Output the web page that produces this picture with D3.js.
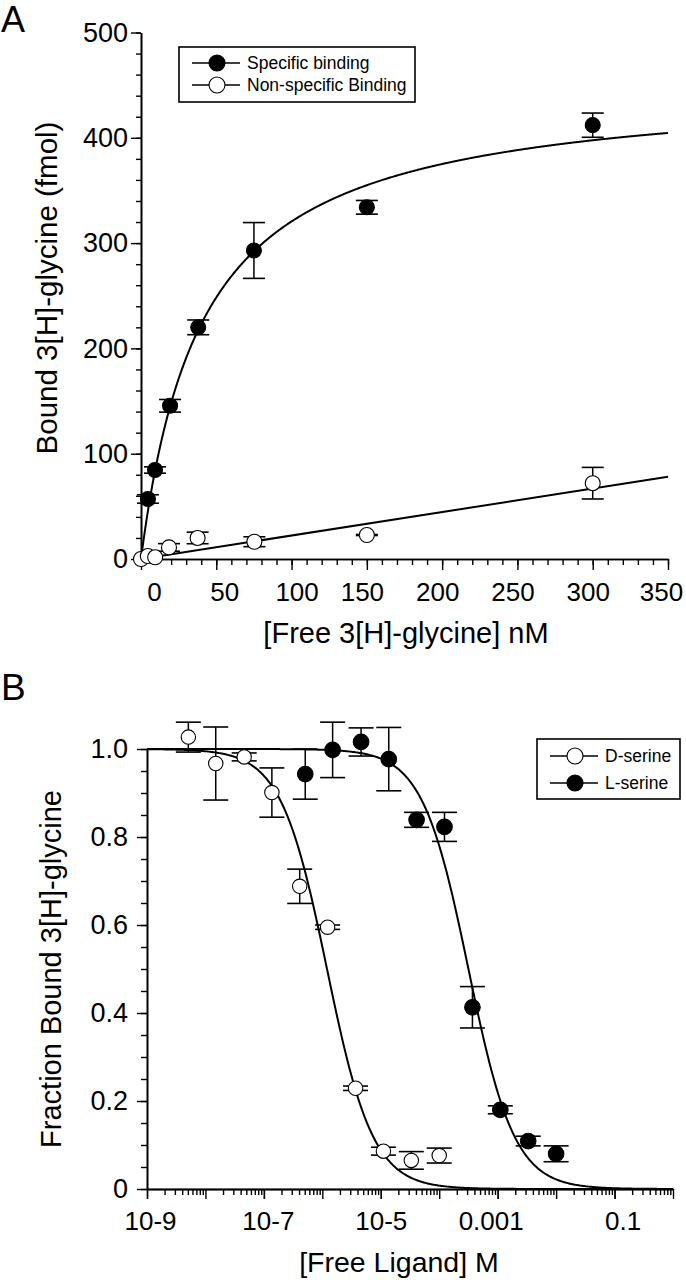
<!DOCTYPE html>
<html><head><meta charset="utf-8">
<script src="https://cdn.jsdelivr.net/npm/d3@7"></script>
<style>
body{margin:0;background:#fff}
svg{display:block}
text{font-family:"Liberation Sans",Arial,Helvetica,sans-serif;fill:#000}
</style>
</head><body>
<svg id="chart" width="686" height="1280"></svg>
<script>
// ---------- Panel A data ----------
const freeSpecific = [4.6, 9.3, 19.3, 38, 75, 150, 300];
const boundSpecific = [57, 84.5, 145.5, 220, 293, 334, 412];
const errSpecific = [4, 3, 6, 7, 26.5, 6.5, 11.5];
const freeNonSpecific = [0, 4.5, 9.4, 18.6, 37.6, 75.3, 150, 300];
const boundNonSpecific = [0, 2.8, 1.6, 11, 20, 16.4, 22.8, 72];
const errNonSpecific = [0, 0, 0, 3.6, 5.5, 4.7, 0.5, 15];
const specificBmax = 452, specificKd = 41;
const nonSpecificSlope = 0.223;
const xTicksA = [0, 50, 100, 150, 200, 250, 300, 350];
const yTicksA = [0, 100, 200, 300, 400, 500];
const legendA = ["Specific binding", "Non-specific Binding"];

// ---------- Panel B data ----------
const dSerineConc = [5.1e-9, 1.5e-8, 4.6e-8, 1.37e-7, 4.1e-7, 1.23e-6, 3.7e-6, 1.11e-5, 3.33e-5, 1e-4];
const dSerineFrac = [1.027, 0.967, 0.982, 0.901, 0.688, 0.595, 0.229, 0.086, 0.065, 0.076];
const dSerineErr = [0.034, 0.083, 0.009, 0.056, 0.039, 0.005, 0.005, 0.009, 0.02, 0.017];
const lSerineConc = [5.1e-7, 1.5e-6, 4.6e-6, 1.37e-5, 4.1e-5, 1.23e-4, 3.7e-4, 1.11e-3, 3.33e-3, 1e-2];
const lSerineFrac = [0.943, 0.998, 1.016, 0.977, 0.839, 0.823, 0.413, 0.18, 0.109, 0.08];
const lSerineErr = [0.057, 0.063, 0.032, 0.072, 0.017, 0.033, 0.047, 0.009, 0.011, 0.018];
const dSerineLogIC50 = -5.92, dSerineHill = 1.1;
const lSerineLogIC50 = -3.5, lSerineHill = 1.1;
const xTicksB = [1e-9, 1e-7, 1e-5, 1e-3, 1e-1];
const xTickLabelsB = ["10-9", "10-7", "10-5", "0.001", "0.1"];
const yTicksB = [0, 0.2, 0.4, 0.6, 0.8, 1.0];
const yTickLabelsB = ["0", "0.2", "0.4", "0.6", "0.8", "1.0"];
const legendB = ["D-serine", "L-serine"];

// small per-label horizontal nudges seen in the original figure's tick labels
const labelNudgeA = [13, 8, 5, -5, -5, -5, -5, -7];
const labelNudgeB = [3, 4, 0, -7, 8];

const svg = d3.select("#chart");
const FONT = '"Liberation Sans",Arial,Helvetica,sans-serif';

function styleAxis(g, fs) {
  g.attr("font-family", FONT).attr("font-size", fs);
  g.selectAll("path.domain").attr("stroke", "#000").attr("stroke-width", 1.6);
  g.selectAll(".tick line").attr("stroke", "#000").attr("stroke-width", 1.4);
  g.selectAll(".tick text").attr("fill", "#000");
  return g;
}

function errorBars(g, xs, ys, es, x, y, half) {
  xs.forEach((xv, i) => {
    if (es[i] <= 0) return;
    const px = x(xv), top = y(ys[i] + es[i]), bot = y(ys[i] - es[i]);
    g.append("line").attr("x1", px).attr("x2", px).attr("y1", top).attr("y2", bot)
      .attr("stroke", "#000").attr("stroke-width", 1.5);
    [top, bot].forEach(yy => g.append("line").attr("x1", px - half).attr("x2", px + half)
      .attr("y1", yy).attr("y2", yy).attr("stroke", "#000").attr("stroke-width", 1.6));
  });
}

function markers(g, xs, ys, x, y, filled, r) {
  g.selectAll(null).data(xs).join("circle")
    .attr("cx", d => x(d)).attr("cy", (d, i) => y(ys[i])).attr("r", r)
    .attr("fill", filled ? "#000" : "#fff").attr("stroke", "#000").attr("stroke-width", 1.1);
}

function legend(g, x0, y0, w, h, rows, lineX1, lineX2, markX, textX, labels, filledFlags) {
  g.append("rect").attr("x", x0).attr("y", y0).attr("width", w).attr("height", h)
    .attr("fill", "#fff").attr("stroke", "#000").attr("stroke-width", 1.6);
  labels.forEach((lab, i) => {
    const yy = rows[i];
    g.append("line").attr("x1", lineX1).attr("x2", lineX2).attr("y1", yy).attr("y2", yy)
      .attr("stroke", "#000").attr("stroke-width", 1.5);
    g.append("circle").attr("cx", markX).attr("cy", yy).attr("r", 8)
      .attr("fill", filledFlags[i] ? "#000" : "#fff").attr("stroke", "#000").attr("stroke-width", 1.1);
    g.append("text").attr("x", textX).attr("y", yy).attr("dy", "0.36em")
      .attr("font-size", 17.5).text(lab);
  });
}

// ================= Panel A =================
const xA = d3.scaleLinear().domain([0, 350]).range([141, 668]);
const yA = d3.scaleLinear().domain([0, 500]).range([559, 32.5]);
const gA = svg.append("g");

styleAxis(gA.append("g").attr("transform", `translate(0,${yA(0)})`)
  .call(d3.axisBottom(xA).tickValues(d3.range(0, 351, 10)).tickSize(6).tickSizeOuter(0).tickFormat("")), 26);
styleAxis(gA.append("g").attr("transform", `translate(${xA(0)},0)`)
  .call(d3.axisLeft(yA).tickValues(d3.range(0, 501, 20)).tickSize(5).tickSizeOuter(0).tickFormat("")), 27);
styleAxis(gA.append("g").attr("transform", `translate(0,${yA(0)})`)
  .call(d3.axisBottom(xA).tickValues(xTicksA).tickSize(11).tickSizeOuter(0).tickPadding(12.5).tickFormat(d3.format("d"))), 26)
  .selectAll(".tick text").attr("dx", (d, i) => labelNudgeA[i]);
styleAxis(gA.append("g").attr("transform", `translate(${xA(0)},0)`)
  .call(d3.axisLeft(yA).tickValues(yTicksA).tickSize(10).tickSizeOuter(0).tickPadding(3).tickFormat(d3.format("d"))), 27);

const lineA = d3.line().x(d => xA(d[0])).y(d => yA(d[1]));
const specCurve = d3.range(0, 350.01, 0.5).map(v => [v, specificBmax * v / (specificKd + v)]);
gA.append("path").attr("d", lineA(specCurve)).attr("fill", "none").attr("stroke", "#000").attr("stroke-width", 2);
gA.append("path").attr("d", lineA([[0, 0], [350, nonSpecificSlope * 350]]))
  .attr("fill", "none").attr("stroke", "#000").attr("stroke-width", 2);

errorBars(gA, freeSpecific, boundSpecific, errSpecific, xA, yA, 11);
errorBars(gA, freeNonSpecific, boundNonSpecific, errNonSpecific, xA, yA, 11);
markers(gA, freeNonSpecific, boundNonSpecific, xA, yA, false, 7.5);
markers(gA, freeSpecific, boundSpecific, xA, yA, true, 7.5);

legend(gA, 179, 47, 236, 55, [63, 85], 192, 240, 217, 247, legendA, [true, false]);

gA.append("text").attr("x", 1).attr("y", 32).attr("font-size", 36).text("A");
gA.append("text").attr("transform", "translate(57,288) rotate(-90)").attr("text-anchor", "middle")
  .attr("font-size", 29.5).text("Bound 3[H]-glycine (fmol)");
gA.append("text").attr("x", 406).attr("y", 643).attr("text-anchor", "middle")
  .attr("font-size", 29).text("[Free 3[H]-glycine] nM");

// ================= Panel B =================
const xB = d3.scaleLog().domain([1e-9, 1]).range([147, 673]);
const yB = d3.scaleLinear().domain([0, 1]).range([1189, 749]);
const gB = svg.append("g");

const minorLog = [];
for (let e = -9; e < 0; e++) for (let m = 2; m <= 9; m++) minorLog.push(m * Math.pow(10, e));
const decades = d3.range(-9, 1).map(e => Math.pow(10, e));

styleAxis(gB.append("g").attr("transform", `translate(0,${yB(0)})`)
  .call(d3.axisBottom(xB).tickValues(minorLog).tickSize(6).tickSizeOuter(0).tickFormat("")), 26);
styleAxis(gB.append("g").attr("transform", `translate(0,${yB(0)})`)
  .call(d3.axisBottom(xB).tickValues(decades).tickSize(10).tickSizeOuter(0).tickFormat("")), 26);
styleAxis(gB.append("g").attr("transform", `translate(0,${yB(0)})`)
  .call(d3.axisBottom(xB).tickValues(xTicksB).tickSize(10).tickSizeOuter(0).tickPadding(12.5)
    .tickFormat((d, i) => xTickLabelsB[i])), 26)
  .selectAll(".tick text").attr("dx", (d, i) => labelNudgeB[i]);
styleAxis(gB.append("g").attr("transform", `translate(${xB(1e-9)},0)`)
  .call(d3.axisLeft(yB).tickValues(d3.range(0, 1.001, 0.05)).tickSize(6).tickSizeOuter(0).tickFormat("")), 27);
styleAxis(gB.append("g").attr("transform", `translate(${xB(1e-9)},0)`)
  .call(d3.axisLeft(yB).tickValues(yTicksB).tickSize(10).tickSizeOuter(0).tickPadding(9)
    .tickFormat((d, i) => yTickLabelsB[i])), 27);

const lineB = d3.line().x(d => xB(d[0])).y(d => yB(d[1]));
function hill(logIC50, n) {
  return d3.range(-9, 0.001, 0.02).map(lx => [Math.pow(10, lx), 1 / (1 + Math.pow(10, n * (lx - logIC50)))]);
}
gB.append("path").attr("d", lineB(hill(dSerineLogIC50, dSerineHill))).attr("fill", "none").attr("stroke", "#000").attr("stroke-width", 2);
gB.append("path").attr("d", lineB(hill(lSerineLogIC50, lSerineHill))).attr("fill", "none").attr("stroke", "#000").attr("stroke-width", 2);

errorBars(gB, dSerineConc, dSerineFrac, dSerineErr, xB, yB, 12.5);
errorBars(gB, lSerineConc, lSerineFrac, lSerineErr, xB, yB, 12.5);
markers(gB, dSerineConc, dSerineFrac, xB, yB, false, 7.2);
markers(gB, lSerineConc, lSerineFrac, xB, yB, true, 7.8);

legend(gB, 537, 739, 143, 60, [756, 783], 550, 598, 575, 605, legendB, [false, true]);

gB.append("text").attr("x", 1).attr("y", 700).attr("font-size", 37).text("B");
gB.append("text").attr("transform", "translate(61,969) rotate(-90)").attr("text-anchor", "middle")
  .attr("font-size", 29).text("Fraction Bound 3[H]-glycine");
gB.append("text").attr("x", 399).attr("y", 1272).attr("text-anchor", "middle")
  .attr("font-size", 28.5).text("[Free Ligand] M");
</script>
</body></html>
